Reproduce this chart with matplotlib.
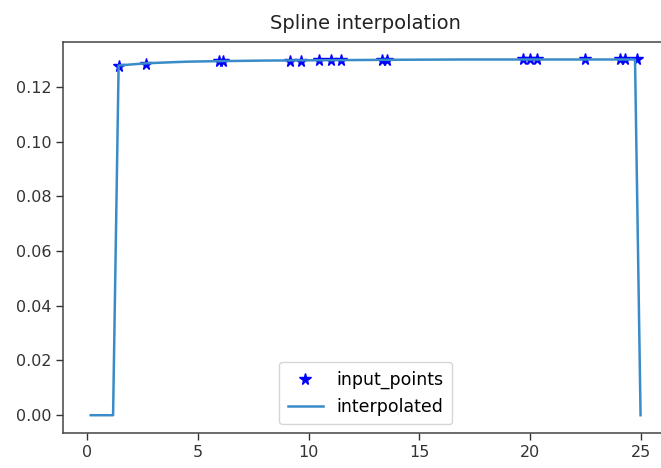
import matplotlib
matplotlib.use("Agg")
import matplotlib.pyplot as plt

# input points
input_x = [1.41, 2.66, 5.96, 6.14, 9.16, 9.66, 10.47, 11.02, 11.47, 13.32, 13.54,
           19.68, 20.0, 20.32, 22.48, 24.06, 24.29, 24.82]
input_y = [0.1278, 0.1285, 0.1294, 0.1294, 0.1296, 0.1296, 0.1297, 0.1298, 0.1298,
           0.1299, 0.1299, 0.1300, 0.1300, 0.1300, 0.1300, 0.1300, 0.1300, 0.1300]

# interpolated curve vertices
interp_x = [0.15, 1.16, 1.41, 2.0, 2.66, 3.5, 4.5, 5.96, 8.0, 10.0, 12.0, 14.0, 17.0,
            20.0, 24.75, 25.0]
interp_y = [0.0, 0.0, 0.1278, 0.1282, 0.1286, 0.1289, 0.1292, 0.1294, 0.1296, 0.1297,
            0.1298, 0.1299, 0.1300, 0.1300, 0.1300, 0.0]

fig = plt.figure(figsize=(6.61, 4.68), dpi=100)
ax = fig.add_axes([63.3 / 661, 35 / 468, (668 - 63.3) / 661, (433 - 41.7) / 468])

ax.plot(input_x, input_y, '*', color='blue', markersize=8.5, label='input_points')
ax.plot(interp_x, interp_y, '-', color='#3a8cc8', linewidth=1.8, label='interpolated')

ax.set_xlim(-1.09, 26.24)
ax.set_ylim(-0.0065, 0.1365)
ax.set_xticks([0, 5, 10, 15, 20, 25])
ax.set_yticks([0.0, 0.02, 0.04, 0.06, 0.08, 0.10, 0.12])
ax.set_yticklabels(['0.00', '0.02', '0.04', '0.06', '0.08', '0.10', '0.12'])
ax.tick_params(labelsize=11.5, length=5, width=1.0, colors='#333333', labelcolor='#333333')
for s in ax.spines.values():
    s.set_linewidth(1.1)
    s.set_color('#444444')

ax.set_title('Spline interpolation', fontsize=14, color='#222222', pad=9)
ax.legend(loc='lower center', fontsize=12.5, markerscale=1.0, handlelength=2.0,
          borderpad=0.5, framealpha=0.8, edgecolor='#cccccc')

fig.savefig('out.png', dpi=100)
